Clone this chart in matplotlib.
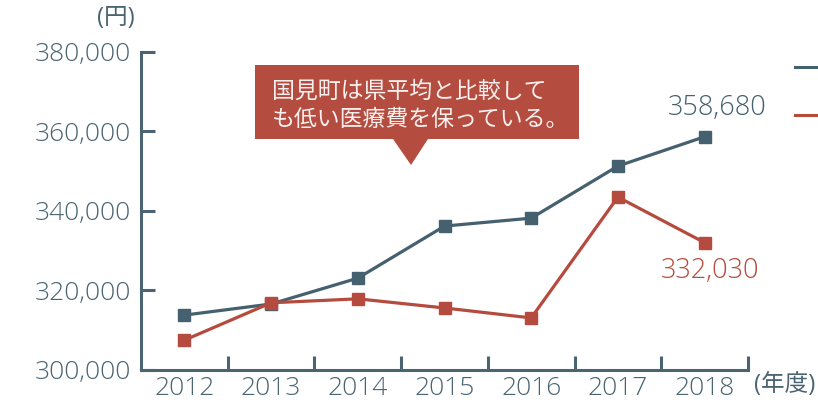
import matplotlib
matplotlib.use("Agg")
import matplotlib.pyplot as plt
from matplotlib.patches import Rectangle, Polygon

plt.rcParams['font.family'] = ['Open Sans', 'Noto Sans CJK JP', 'DejaVu Sans']

years = ["2012", "2013", "2014", "2015", "2016", "2017", "2018"]
town = [313800, 316600, 323100, 336200, 338200, 351300, 358680]
pref = [307500, 316900, 317900, 315600, 313100, 343500, 332030]

BLUE = "#45606e"
RED = "#b54b3e"
AXIS = "#4a6472"

fig = plt.figure(figsize=(8.18, 4.09), dpi=100)
ax = fig.add_axes([0.1724, 0.0954, 0.742, 0.7775])

x = range(len(years))
ax.plot(x, town, color=BLUE, lw=2.3, marker="s", ms=9, clip_on=False, zorder=3)
ax.plot(x, pref, color=RED, lw=2.3, marker="s", ms=9, clip_on=False, zorder=4)

ax.set_xlim(-0.5, 6.5)
ax.set_ylim(300000, 380000)
ax.set_yticks([300000, 320000, 340000, 360000, 380000])
ax.set_yticklabels([f"{v:,}" for v in [300000, 320000, 340000, 360000, 380000]])
ax.set_xticks([i + 0.5 for i in range(7)])
ax.set_xticklabels([])
for i, y in enumerate(years):
    ax.text(i, -0.02, y, transform=ax.get_xaxis_transform(), ha="center", va="top",
            fontsize=19, color=AXIS, fontweight="light")

for s in ["top", "right"]:
    ax.spines[s].set_visible(False)
for s in ["left", "bottom"]:
    ax.spines[s].set_color(AXIS)
    ax.spines[s].set_linewidth(2.2)
ax.tick_params(axis="both", direction="in", color=AXIS, width=2.2, length=10)
ax.tick_params(axis="y", labelsize=19, labelcolor=AXIS, pad=7)
for lab in ax.get_yticklabels():
    lab.set_fontweight("light")

ax.text(6.14, 358680 + 3800, "358,680", ha="center", va="bottom", fontsize=19.5, color=BLUE, fontweight="light")
ax.text(6.06, 332030 - 3500, "332,030", ha="center", va="top", fontsize=19.5, color=RED, fontweight="light")

fig.text(116 / 818, 1 - 18 / 409, "(円)", ha="center", va="center", fontsize=17, color=AXIS)
fig.text(785 / 818, 1 - 385 / 409, "(年度)", ha="center", va="center", fontsize=17, color=AXIS)

# legend stubs (labels fall outside the canvas)
fig.lines.append(plt.Line2D([795 / 818, 1.0], [1 - 67 / 409] * 2, transform=fig.transFigure, color=BLUE, lw=2.2))
fig.lines.append(plt.Line2D([795 / 818, 1.0], [1 - 115 / 409] * 2, transform=fig.transFigure, color=RED, lw=2.2))

# callout
W, H = 818, 409
box = Rectangle((255 / W, 1 - 139 / H), (579 - 255) / W, (139 - 65) / H,
                transform=fig.transFigure, facecolor="#b44c40", edgecolor="none")
tri = Polygon([(393 / W, 1 - 139 / H), (428 / W, 1 - 139 / H), (411 / W, 1 - 165 / H)],
              closed=True, transform=fig.transFigure, facecolor="#b44c40", edgecolor="none")
fig.patches.extend([box, tri])
fig.text(272 / W, 1 - 91 / H, "国見町は県平均と比較して", ha="left", va="center",
         fontsize=16.5, color="#f8f0ee", family=["Noto Sans CJK JP", "DejaVu Sans"])
fig.text(272 / W, 1 - 119 / H, "も低い医療費を保っている。", ha="left", va="center",
         fontsize=16.5, color="#f8f0ee", family=["Noto Sans CJK JP", "DejaVu Sans"])

fig.savefig("out.png", dpi=100)
